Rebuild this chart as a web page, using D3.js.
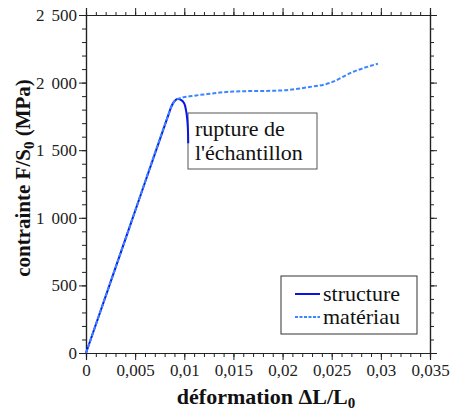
<!DOCTYPE html>
<html>
<head>
<meta charset="utf-8">
<script src="https://cdn.jsdelivr.net/npm/d3@7"></script>
<style>
  body { margin: 0; background: #fff; }
  svg text { font-family: "Liberation Serif", "Times New Roman", "DejaVu Serif", serif; }
</style>
</head>
<body>
<svg id="chart" width="450" height="412"></svg>
<script>
// strain / stress of the tested specimen (structure)
var structStrain = [0, 0.004, 0.0084, 0.0087, 0.009, 0.0093, 0.0097, 0.01, 0.0102, 0.01035, 0.0104];
var structStress = [0, 840, 1765, 1825, 1862, 1878, 1870, 1845, 1785, 1680, 1552];

// strain / stress of the material law (matériau)
var matStrain = [0, 0.004, 0.0084, 0.0087, 0.009, 0.0093, 0.0112, 0.0123, 0.015, 0.02, 0.0225, 0.0248, 0.0272, 0.0297];
var matStress = [0, 840, 1765, 1825, 1862, 1878, 1905, 1915, 1934, 1942, 1965, 1997, 2080, 2140];

var xTicks = [0, 0.005, 0.01, 0.015, 0.02, 0.025, 0.03, 0.035];
var xTickLabels = ["0", "0,005", "0,01", "0,015", "0,02", "0,025", "0,03", "0,035"];
var yTicks = [0, 500, 1000, 1500, 2000, 2500];
var yTickLabels = ["0", "500", "1 000", "1 500", "2 000", "2 500"];

var svg = d3.select('#chart');
// plot frame ("top" is taken by window, so use other names)
var plotLeft = 86, plotRight = 430, plotTop = 15, plotBottom = 353;

var x = d3.scaleLinear().domain([0, 0.035]).range([plotLeft, plotRight]);
var y = d3.scaleLinear().domain([0, 2500]).range([plotBottom, plotTop]);

// minor ticks every 0.001 / every 100
var xMinor = d3.range(0, 0.0351, 0.001);
var yMinor = d3.range(0, 2501, 100);

function drawAxis(axis, transform) {
    var g = svg.append('g').attr('transform', transform).call(axis);
    g.attr('font-family', null);
    g.select('.domain').attr('stroke', '#222').attr('stroke-width', 1.2);
    g.selectAll('.tick line').attr('stroke', '#222');
    return g;
}

// minor ticks on all four sides
drawAxis(d3.axisBottom(x).tickValues(xMinor).tickSize(4).tickFormat(''), 'translate(0,' + plotBottom + ')');
drawAxis(d3.axisTop(x).tickValues(xMinor).tickSize(3).tickFormat(''), 'translate(0,' + plotTop + ')');
drawAxis(d3.axisLeft(y).tickValues(yMinor).tickSize(4).tickFormat(''), 'translate(' + plotLeft + ',0)');
drawAxis(d3.axisRight(y).tickValues(yMinor).tickSize(4).tickFormat(''), 'translate(' + plotRight + ',0)');

// major ticks with labels
var xAxis = drawAxis(d3.axisBottom(x).tickValues(xTicks).tickSize(7).tickPadding(4)
    .tickFormat(function(d, i) { return xTickLabels[i]; }), 'translate(0,' + plotBottom + ')');
xAxis.selectAll('text').attr('font-size', 17).attr('fill', '#222');

var yAxis = drawAxis(d3.axisLeft(y).tickValues(yTicks).tickSize(7).tickPadding(2)
    .tickFormat(function(d, i) { return yTickLabels[i]; }), 'translate(' + plotLeft + ',0)');
// thousands gap: split at the space and push the second part with dx
yAxis.selectAll('text').attr('font-size', 17).attr('fill', '#222')
    .html(function(d, i) {
        var parts = yTickLabels[i].split(' ');
        return parts.length > 1 ? parts[0] + '<tspan dx="7">' + parts[1] + '</tspan>' : parts[0];
    });

drawAxis(d3.axisTop(x).tickValues(xTicks).tickSize(7).tickFormat(''), 'translate(0,' + plotTop + ')');
drawAxis(d3.axisRight(y).tickValues(yTicks).tickSize(7).tickFormat(''), 'translate(' + plotRight + ',0)');

// annotation box (drawn under the curves)
svg.append('rect')
    .attr('x', 188).attr('y', 113).attr('width', 129).attr('height', 56)
    .attr('fill', '#fff').attr('stroke', '#555').attr('stroke-width', 1);
svg.append('text').attr('x', 195).attr('y', 136).attr('font-size', 22).attr('fill', '#111').text('rupture de');
svg.append('text').attr('x', 195).attr('y', 160).attr('font-size', 22).attr('fill', '#111').text("l'échantillon");

var structData = d3.zip(structStrain, structStress);
var matData = d3.zip(matStrain, matStress);

// the falling branch bends back, so use Catmull-Rom for the structure
svg.append('path')
    .datum(structData)
    .attr('d', d3.line().x(function(d) { return x(d[0]); }).y(function(d) { return y(d[1]); }).curve(d3.curveCatmullRom))
    .attr('fill', 'none')
    .attr('stroke', '#0a14e6')
    .attr('stroke-width', 2);

svg.append('path')
    .datum(matData)
    .attr('d', d3.line().x(function(d) { return x(d[0]); }).y(function(d) { return y(d[1]); }).curve(d3.curveMonotoneX))
    .attr('fill', 'none')
    .attr('stroke', '#3a86ff')
    .attr('stroke-width', 2)
    .attr('stroke-dasharray', '4,2');

// legend
var legend = svg.append('g');
legend.append('rect')
    .attr('x', 281).attr('y', 276).attr('width', 136).attr('height', 58)
    .attr('fill', '#fff').attr('stroke', '#333').attr('stroke-width', 1);
var items = [
    { label: 'structure', color: '#0a14e6', dash: null },
    { label: 'matériau', color: '#3a86ff', dash: '3,1.5' }
];
items.forEach(function(it, i) {
    var ly = 294 + i * 23;
    legend.append('line')
        .attr('x1', 295).attr('x2', 320).attr('y1', ly).attr('y2', ly)
        .attr('stroke', it.color).attr('stroke-width', 2)
        .attr('stroke-dasharray', it.dash);
    legend.append('text')
        .attr('x', 323).attr('y', ly + 7).attr('font-size', 22).attr('fill', '#111')
        .text(it.label);
});

// axis titles
svg.append('text')
    .attr('x', 266).attr('y', 404)
    .attr('text-anchor', 'middle')
    .attr('font-size', 22).attr('font-weight', 'bold').attr('fill', '#111')
    .html('déformation ΔL/L<tspan font-size="15" dy="4">0</tspan>');

svg.append('text')
    .attr('transform', 'translate(30,178) rotate(-90)')
    .attr('text-anchor', 'middle')
    .attr('font-size', 21).attr('font-weight', 'bold').attr('fill', '#111')
    .html('contrainte F/S<tspan font-size="15" dy="4">0</tspan><tspan dy="-4"> (MPa)</tspan>');
</script>
</body>
</html>
